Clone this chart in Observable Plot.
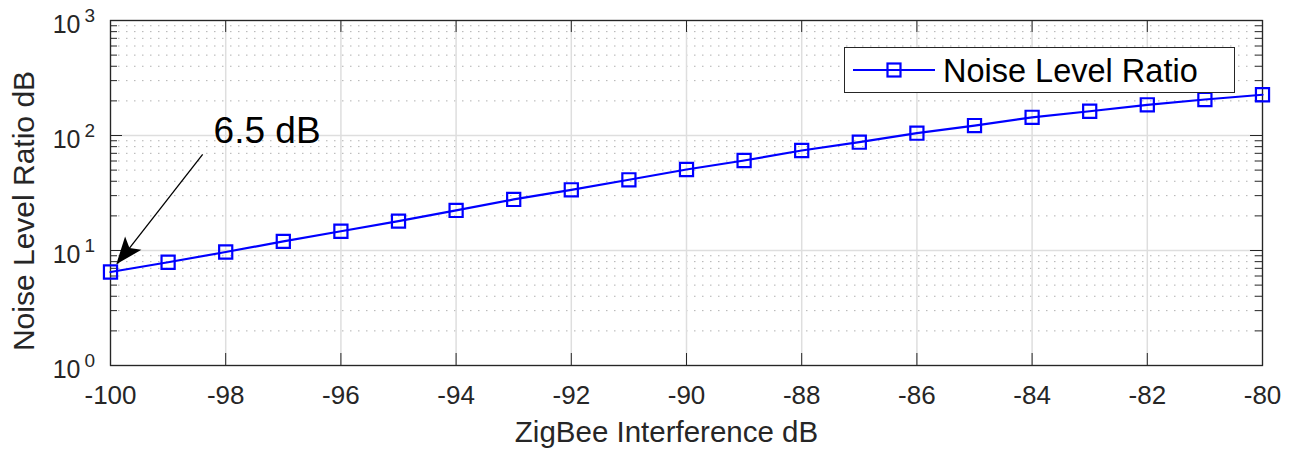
<!DOCTYPE html>
<html>
<head>
<meta charset="utf-8">
<script src="https://cdn.jsdelivr.net/npm/d3@7"></script>
<script src="https://cdn.jsdelivr.net/npm/@observablehq/plot@0.6"></script>
<style>
  html, body { margin: 0; padding: 0; background: #ffffff; }
  #wrap { position: relative; width: 1293px; height: 455px; font-family: "Liberation Sans", Arial, Helvetica, sans-serif; }
  #legend { position: absolute; left: 844px; top: 47px; width: 389px; height: 44px; border: 1.3px solid #262626; background: #ffffff; }
  #legend svg { position: absolute; left: 0; top: 0; }
  #legend span { position: absolute; left: 98px; top: 7px; font-size: 32.5px; line-height: 32px; color: #000000; white-space: nowrap; }
</style>
</head>
<body>
<div id="wrap"></div>
<script>
// ---- data ----
const interferenceDb = [-100, -99, -98, -97, -96, -95, -94, -93, -92, -91, -90, -89, -88, -87, -86, -85, -84, -83, -82, -81, -80];
const noiseLevelRatio = [6.5, 7.9, 9.7, 12.0, 14.7, 18.0, 22.3, 27.8, 33.7, 41.2, 50.6, 60.6, 74.1, 87.5, 104.7, 122, 144, 162.6, 184.9, 205.6, 226];
const xTicks = [-100, -98, -96, -94, -92, -90, -88, -86, -84, -82, -80];
const xTickLabels = ["-100", "-98", "-96", "-94", "-92", "-90", "-88", "-86", "-84", "-82", "-80"];
const yMajor = [1, 10, 100, 1000];
const yExponents = ["0", "1", "2", "3"];
const yMinor = [2, 3, 4, 5, 6, 7, 8, 9, 20, 30, 40, 50, 60, 70, 80, 90, 200, 300, 400, 500, 600, 700, 800, 900];
const seriesName = "Noise Level Ratio";
const xLabel = "ZigBee Interference dB";
const yLabel = "Noise Level Ratio dB";
const annotationLabel = "6.5 dB";

const table = interferenceDb.map((x, i) => ({x, y: noiseLevelRatio[i]}));

const axisColor = "#262626";
const font = '"Liberation Sans", Arial, Helvetica, sans-serif';

// filled arrowhead symbol, tip at origin pointing up
const arrowHead = {
  draw(ctx, size) {
    const r = Math.sqrt(size / Math.PI);
    ctx.moveTo(0, 0);
    ctx.lineTo(-1.05 * r, 2.7 * r);
    ctx.lineTo(0, 2.1 * r);
    ctx.lineTo(1.05 * r, 2.7 * r);
    ctx.closePath();
  }
};

// inner frame: 1152 x 345
const majorTick = 12, minorTick = 7, innerW = 1152, innerH = 345;

const chart = Plot.plot({
  width: 1293,
  height: 455,
  marginLeft: 110,
  marginRight: 31,
  marginTop: 20,
  marginBottom: 90,
  x: {domain: [-100, -80], axis: null},
  y: {type: "log", domain: [1, 1000], axis: null},
  style: {fontFamily: font, color: axisColor, background: "#ffffff", overflow: "visible"},
  marks: [
    // grids
    Plot.ruleY(yMinor, {y: d => d, stroke: "#b0b0b0", strokeWidth: 1, strokeDasharray: "1.5,6.5"}),
    Plot.ruleX(xTicks, {x: d => d, stroke: "#dedede", strokeWidth: 1.5}),
    Plot.ruleY(yMajor, {y: d => d, stroke: "#dedede", strokeWidth: 1.5}),
    // inward ticks
    Plot.ruleX(xTicks, {x: d => d, insetTop: innerH - majorTick, stroke: axisColor, strokeWidth: 1}),
    Plot.ruleX(xTicks, {x: d => d, insetBottom: innerH - majorTick, stroke: axisColor, strokeWidth: 1}),
    Plot.ruleY(yMajor, {y: d => d, insetRight: innerW - majorTick, stroke: axisColor, strokeWidth: 1}),
    Plot.ruleY(yMinor, {y: d => d, insetRight: innerW - minorTick, stroke: axisColor, strokeWidth: 1}),
    Plot.ruleY(yMajor, {y: d => d, insetLeft: innerW - majorTick, stroke: axisColor, strokeWidth: 1}),
    Plot.ruleY(yMinor, {y: d => d, insetLeft: innerW - minorTick, stroke: axisColor, strokeWidth: 1}),
    Plot.frame({stroke: axisColor, strokeWidth: 1.3}),
    // tick labels
    Plot.text(xTicks, {x: d => d, frameAnchor: "bottom", text: (d, i) => xTickLabels[i], lineAnchor: "bottom", dy: 38, fontSize: 26, fill: axisColor}),
    Plot.text(yMajor, {y: d => d, frameAnchor: "left", text: () => "10", textAnchor: "end", lineAnchor: "bottom", dx: -30, dy: 12, fontSize: 25, fill: axisColor}),
    Plot.text(yMajor, {y: d => d, frameAnchor: "left", text: (d, i) => yExponents[i], textAnchor: "start", lineAnchor: "bottom", dx: -26, dy: 1, fontSize: 19, fill: axisColor}),
    // axis labels
    Plot.text([xLabel], {text: d => d, frameAnchor: "bottom", lineAnchor: "bottom", dx: -20, dy: 76, fontSize: 29.5, fill: axisColor}),
    Plot.text([yLabel], {text: d => d, frameAnchor: "left", rotate: -90, lineAnchor: "bottom", textAnchor: "middle", dx: -77, dy: 18, fontSize: 30, fill: axisColor}),
    // series
    Plot.line(table, {x: "x", y: "y", stroke: "#0000ff", strokeWidth: 2.2}),
    Plot.dot(table, {x: "x", y: "y", symbol: "square", r: 7.4, stroke: "#0000ff", strokeWidth: 2.2, fill: "none"}),
    // annotation
    Plot.link([annotationLabel], {x1: () => -98.4, y1: () => 68.4, x2: () => -99.88, y2: () => 7.7, stroke: "#000000", strokeWidth: 1.3}),
    Plot.dot([annotationLabel], {x: () => -99.9, y: () => 7.6, symbol: arrowHead, r: 10, fill: "#000000", stroke: "none", rotate: 219}),
    Plot.text([annotationLabel], {x: () => -98.21, y: () => 85.2, text: d => d, textAnchor: "start", lineAnchor: "bottom", fontSize: 37, fill: "#000000"})
  ]
});

const wrap = document.getElementById("wrap");
wrap.appendChild(chart);

// legend overlay
const legend = document.createElement("div");
legend.id = "legend";
legend.innerHTML =
  '<svg width="100" height="44"><line x1="8" y1="22" x2="90" y2="22" stroke="#0000ff" stroke-width="2.2"/>' +
  '<rect x="42.5" y="15.5" width="13" height="13" fill="none" stroke="#0000ff" stroke-width="2.2"/></svg>';
const span = document.createElement("span");
span.textContent = seriesName;
legend.appendChild(span);
wrap.appendChild(legend);
</script>
</body>
</html>
